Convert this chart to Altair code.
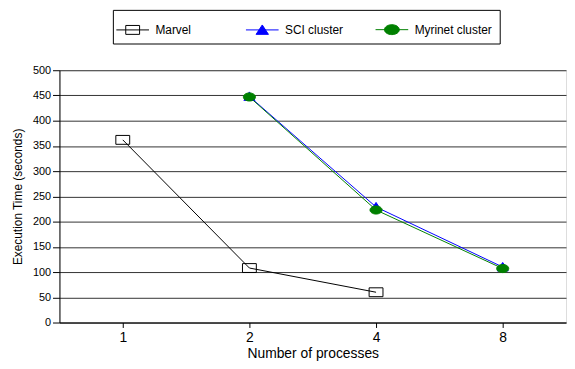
import altair as alt
import pandas as pd

procs = ["1", "2", "4", "8"]
series_names = ["Marvel", "SCI cluster", "Myrinet cluster"]
marvel = [362, 108, 60, None]
sci = [None, 448, 229, 110]
myrinet = [None, 447, 223, 107]
colors = ["#000000", "#0000FF", "#008000"]
fills = ["transparent", "#0000FF", "#008000"]
y_ticks = [0, 50, 100, 150, 200, 250, 300, 350, 400, 450, 500]

rows = []
for name, vals in zip(series_names, [marvel, sci, myrinet]):
    for p, v in zip(procs, vals):
        if v is not None:
            rows.append({"procs": p, "time": v, "series": name})
df = pd.DataFrame(rows)

square = "M-1,-0.64L1,-0.64L1,0.64L-1,0.64Z"
ellipse = "M-1,0A1,0.67 0 1,1 1,0A1,0.67 0 1,1 -1,0Z"
tri = "M0,-0.7L0.85,0.6L-0.85,0.6Z"

leg_marvel = "M-1.32,0L1.32,0M-0.56,-0.36L0.56,-0.36L0.56,0.36L-0.56,0.36Z"
leg_sci = "M-1.32,0L1.32,0M0,-0.4L0.5,0.36L-0.5,0.36Z"
leg_myr = "M-1.32,0L1.32,0M-0.6,0A0.6,0.4 0 1,1 0.6,0A0.6,0.4 0 1,1 -0.6,0Z"

x_enc = alt.X("procs:O", sort=procs, title="Number of processes",
              scale=alt.Scale(type="point", padding=0.5),
              axis=alt.Axis(labelAngle=0, labelFontSize=14, titleFontSize=14,
                            labelColor="black", titleColor="black", titleFontWeight="normal",
                            domainColor="black", tickColor="black", tickSize=5,
                            labelPadding=3, titlePadding=2, grid=False))
y_enc = alt.Y("time:Q", title="Execution Time (seconds)",
              scale=alt.Scale(domain=[0, 500]),
              axis=alt.Axis(values=y_ticks, labelFontSize=11, titleFontSize=12,
                            labelColor="black", titleColor="black", titleFontWeight="normal",
                            domainColor="black", tickColor="black", tickSize=7,
                            labelPadding=2, titlePadding=8, grid=True, labelOverlap=False,
                            gridColor="#333333", gridOpacity=1))

lines = alt.Chart(df).mark_line(strokeWidth=1).encode(
    x=x_enc, y=y_enc,
    color=alt.Color("series:N", scale=alt.Scale(domain=series_names, range=colors), legend=None),
    order=alt.Order("procs:O"),
)

points = alt.Chart(df).mark_point(filled=False, opacity=1, strokeWidth=1).encode(
    x=x_enc, y=y_enc,
    shape=alt.Shape("series:N", scale=alt.Scale(domain=series_names, range=[square, tri, ellipse]), legend=None),
    stroke=alt.Stroke("series:N", scale=alt.Scale(domain=series_names, range=colors), legend=None),
    fill=alt.Fill("series:N", scale=alt.Scale(domain=series_names, range=fills), legend=None),
    size=alt.Size("series:N", scale=alt.Scale(domain=series_names, range=[196, 150, 225]), legend=None),
)

leg = alt.Legend(title=None, orient="none", direction="horizontal",
                 legendX=54, legendY=-61,
                 strokeColor="black", padding=7, gridAlign="all",
                 columnPadding=10, symbolSize=625, symbolStrokeWidth=1,
                 labelFontSize=12, labelColor="black", labelOffset=10,
                 labelLimit=200, symbolOpacity=1)

legend_layer = alt.Chart(df).transform_filter("false").mark_point(opacity=1, strokeWidth=1).encode(
    x=x_enc, y=y_enc,
    shape=alt.Shape("series:N", scale=alt.Scale(domain=series_names, range=[leg_marvel, leg_sci, leg_myr]), legend=leg),
    stroke=alt.Stroke("series:N", scale=alt.Scale(domain=series_names, range=colors), legend=leg),
    fill=alt.Fill("series:N", scale=alt.Scale(domain=series_names, range=fills), legend=leg),
)

chart = alt.layer(lines, points, legend_layer).resolve_scale(
    shape="independent", stroke="independent", fill="independent", size="independent"
).properties(
    width=512, height=255,
    autosize=alt.AutoSizeParams(type="none"),
    padding={"left": 52, "top": 61, "right": 1, "bottom": 38},
).configure_view(stroke="black", strokeWidth=1).configure(
    font="Liberation Sans"
)

chart.save("out.html", embed_options={"renderer": "svg", "actions": False})
